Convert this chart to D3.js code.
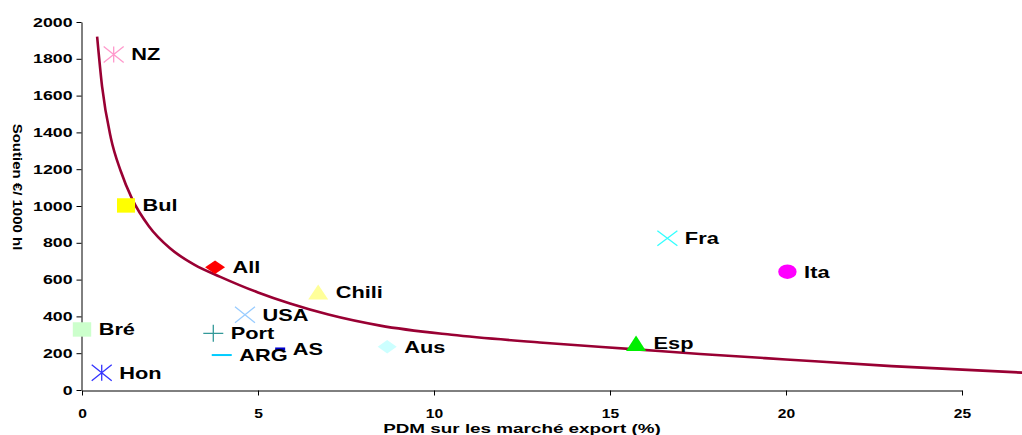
<!DOCTYPE html>
<html><head><meta charset="utf-8">
<script src="https://cdn.jsdelivr.net/npm/d3@7"></script>
<style>
body{margin:0;background:#fff;}
svg text{font-family:"Liberation Sans",Arial,sans-serif;font-weight:bold;fill:#000;}
</style>
</head><body>
<svg id="chart" width="1022" height="435"></svg>
<script>
// ---- data ----
const countries = ["NZ","Bul","All","Chili","USA","Port","ARG","AS","Aus","Bré","Hon","Fra","Ita","Esp"];
const pdm       = [0.90, 1.25, 3.78, 6.71, 4.63, 3.73, 3.97, 5.63, 8.67, 0.0, 0.56, 16.63, 20.04, 15.74];
const soutien   = [1824, 1003, 667, 533, 409, 308, 190, 223, 235, 329, 94, 825, 643, 254];
const trendX = [0.43, 0.57, 0.82, 1.1, 1.42, 1.9, 2.5, 3.2, 3.93, 5.0, 5.91, 7.0, 8.47, 10.5, 13.0, 15.74, 17.56, 20.0, 23.0, 26.75];
const trendY = [1920, 1650, 1370, 1190, 1040, 890, 770, 680, 615, 530, 470, 410, 350, 300, 258, 221, 196, 166, 130, 94];
const xTicks = [0, 5, 10, 15, 20, 25];
const yTicks = [0, 200, 400, 600, 800, 1000, 1200, 1400, 1600, 1800, 2000];
const xTitle = "PDM sur les marché export (%)";
const yTitle = "Soutien €/ 1000 hl";

// ---- marker styles ----
const markerStyle = {
  "NZ":   {shape:"star",     color:"#FF99CC", w:10,  h:8},
  "Bul":  {shape:"square",   color:"#FFFF00", w:9,   h:7.2},
  "All":  {shape:"diamond",  color:"#FF0000", w:10,  h:6.7},
  "Chili":{shape:"triangle", color:"#FFFF99", w:10,  h:7.5},
  "USA":  {shape:"x",        color:"#99CCFF", w:10,  h:8},
  "Port": {shape:"plus",     color:"#339999", w:10,  h:8.5},
  "ARG":  {shape:"dash",     color:"#00CCFF", w:10,  h:1, sw:2},
  "AS":   {shape:"dash",     color:"#0000CC", w:5,   h:1, sw:3},
  "Aus":  {shape:"diamond",  color:"#CCFFFF", w:9.5, h:6.7},
  "Bré":  {shape:"square",   color:"#CCFFCC", w:9.2, h:7.2},
  "Hon":  {shape:"star",     color:"#3333FF", w:10,  h:8},
  "Fra":  {shape:"x",        color:"#33FFFF", w:10,  h:7.5},
  "Ita":  {shape:"circle",   color:"#FF00FF", w:9.2, h:7.3},
  "Esp":  {shape:"triangle", color:"#00EE00", w:10,  h:7.8}
};
function markerPath(s){
  const w=s.w,h=s.h;
  switch(s.shape){
    case "square": return `M${-w},${-h}H${w}V${h}H${-w}Z`;
    case "diamond": return `M0,${-h}L${w},0L0,${h}L${-w},0Z`;
    case "triangle": return `M0,${-h}L${w},${h}L${-w},${h}Z`;
    case "circle": return `M${-w},0A${w},${h} 0 1,0 ${w},0A${w},${h} 0 1,0 ${-w},0Z`;
    case "x": return `M${-w},${-h}L${w},${h}M${-w},${h}L${w},${-h}`;
    case "plus": return `M${-w},0H${w}M0,${-h}V${h}`;
    case "star": return `M${-w},${-h}L${w},${h}M${-w},${h}L${w},${-h}M0,${-h}V${h}`;
    case "dash": return `M${-w},0H${w}`;
  }
}
const filled = {square:1, diamond:1, triangle:1, circle:1};

// ---- layout ----
const svg = d3.select("#chart");
const x = d3.scaleLinear().domain([0, 25]).range([82, 962]);
const y = d3.scaleLinear().domain([0, 2000]).range([390, 22]);

function stretch(sel, k){
  sel.each(function(){
    const L = this.getComputedTextLength();
    this.setAttribute("textLength", (L*k).toFixed(2));
    this.setAttribute("lengthAdjust", "spacingAndGlyphs");
  });
}

// axes
const yAxis = svg.append("g").attr("transform","translate(81.5,0)")
  .call(d3.axisLeft(y).tickValues(yTicks).tickSize(5).tickSizeOuter(0).tickPadding(4).tickFormat(d3.format("d")));
const xAxis = svg.append("g").attr("transform","translate(0,390.5)")
  .call(d3.axisBottom(x).tickValues(xTicks).tickSize(5).tickSizeOuter(0).tickPadding(13).tickFormat(d3.format("d")));
[yAxis, xAxis].forEach(g=>{
  g.select(".domain").attr("stroke","#000").attr("stroke-width",1);
  g.selectAll(".tick line").attr("stroke","#000");
  g.selectAll("text").attr("font-size","12.5px").attr("font-family",null).attr("fill","#000");
});
xAxis.selectAll("text").attr("font-size","13px");
stretch(yAxis.selectAll(".tick text"), 1.42);
stretch(xAxis.selectAll(".tick text"), 1.2);

// axis titles
const xt = svg.append("text").attr("x", 522).attr("y", 433).attr("text-anchor","middle")
  .attr("font-size","13px").text(xTitle);
stretch(xt, 1.45);
const yt = svg.append("text").attr("transform","translate(13,187) rotate(90)")
  .attr("text-anchor","middle").attr("font-size","12.5px").text(yTitle);
stretch(yt, 1.2);

// trend curve
const trend = trendX.map((v,i)=>[v, trendY[i]]);
svg.append("path").datum(trend)
  .attr("fill","none").attr("stroke","#990033").attr("stroke-width",2.6)
  .attr("d", d3.line().x(d=>x(d[0])).y(d=>y(d[1])).curve(d3.curveMonotoneX));

// points
const pts = countries.map((c,i)=>({name:c, px:pdm[i], py:soutien[i], s:markerStyle[c]}));
const g = svg.append("g");
pts.forEach(p=>{
  const s = p.s;
  g.append("path")
    .attr("transform",`translate(${x(p.px)},${y(p.py)})`)
    .attr("d", markerPath(s))
    .attr("fill", filled[s.shape] ? s.color : "none")
    .attr("stroke", filled[s.shape] ? "none" : s.color)
    .attr("stroke-width", s.sw || 1.3);
});
const labels = svg.append("g").selectAll("text").data(pts).join("text")
  .attr("x", d=>x(d.px) + d.s.w + 7.5)
  .attr("y", d=>y(d.py) + 6)
  .attr("font-size","17px")
  .text(d=>d.name);
stretch(labels, 1.28);
</script>
</body></html>
